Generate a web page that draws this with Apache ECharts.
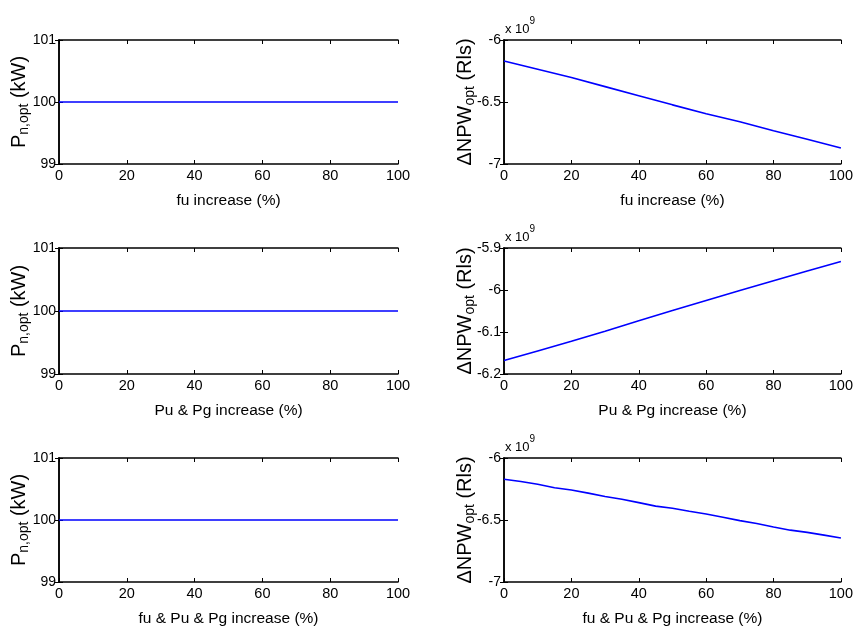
<!DOCTYPE html>
<html><head><meta charset="utf-8">
<script src="https://cdn.jsdelivr.net/npm/echarts@6/dist/echarts.min.js"></script>
<style>html,body{margin:0;padding:0;background:#fff}#c{width:856px;height:634px}</style>
</head><body><div id="c"></div>
<script>
// ---- data ----
const xPct = [0, 10, 20, 30, 40, 50, 60, 70, 80, 90, 100];
const xPctFine = [0, 5, 10, 15, 20, 25, 30, 35, 40, 45, 50, 55, 60, 65, 70, 75, 80, 85, 90, 95, 100];
const pnFu = [100, 100, 100, 100, 100, 100, 100, 100, 100, 100, 100];
const pnPuPg = [100, 100, 100, 100, 100, 100, 100, 100, 100, 100, 100];
const pnAll = [100, 100, 100, 100, 100, 100, 100, 100, 100, 100, 100];
// ΔNPW in units of 1e9 Rls
const npwFu = [-6.169, -6.236, -6.303, -6.376, -6.45, -6.523, -6.595, -6.66, -6.732, -6.80, -6.871];
const npwPuPg = [-6.168, -6.145, -6.122, -6.098, -6.073, -6.049, -6.025, -6.001, -5.978, -5.955, -5.932];
const npwAll = [-6.172, -6.19, -6.212, -6.24, -6.258, -6.283, -6.31, -6.333, -6.36, -6.388, -6.405, -6.43, -6.452, -6.478, -6.505, -6.528, -6.556, -6.582, -6.60, -6.622, -6.645];
const xTitles = ['fu increase (%)', 'Pu & Pg increase (%)', 'fu & Pu & Pg increase (%)'];
const pnTicks = { min: 99, max: 101, interval: 1 };
const npwTicks = [
  { min: -7, max: -6, interval: 0.5 },
  { min: -6.2, max: -5.9, interval: 0.1 },
  { min: -7, max: -6, interval: 0.5 }
];
const xTicks = { min: 0, max: 100, interval: 20 };

// ---- layout ----
const colLeft = [59, 504];
const colWidth = 339;
const rowTop = [40, 248, 458];
const rowHeight = [124, 126, 124];
const yNameGap = [28, 27];

const tickFont = "'Liberation Sans Narrow','Arial Narrow','Liberation Sans',Arial,sans-serif";
const titleFont = "'Liberation Sans',Arial,sans-serif";

const panels = [];
const leftData = [pnFu, pnPuPg, pnAll];
const rightData = [npwFu, npwPuPg, npwAll];
const rightX = [xPct, xPct, xPctFine];
for (let r = 0; r < 3; r++) {
  panels.push({ col: 0, row: r, xs: xPct, ys: leftData[r], y: pnTicks, yName: '{m|P}{s|n,opt}{m| (kW)}', exp: false });
  panels.push({ col: 1, row: r, xs: rightX[r], ys: rightData[r], y: npwTicks[r], yName: '{m|\u0394NPW}{s|opt}{m| (Rls)}', exp: true });
}

const grid = [], xAxis = [], yAxis = [], series = [], graphic = [];
const axLine = { show: true, lineStyle: { color: '#000', width: 1.5 } };
const tick = { show: true, inside: true, length: 4, lineStyle: { color: '#000', width: 1 } };
const nameRich = {
  m: { fontFamily: titleFont, fontSize: 20, color: '#000', lineHeight: 23 },
  s: { fontFamily: titleFont, fontSize: 14, color: '#000', lineHeight: 23, verticalAlign: 'bottom' }
};
panels.forEach((p, i) => {
  grid.push({ left: colLeft[p.col], top: rowTop[p.row], width: colWidth, height: rowHeight[p.row], containLabel: false });
  xAxis.push({
    type: 'value', gridIndex: i, position: 'bottom', min: xTicks.min, max: xTicks.max, interval: xTicks.interval,
    axisLine: axLine, axisTick: tick, splitLine: { show: false },
    axisLabel: { color: '#000', fontFamily: tickFont, fontSize: 14.5, margin: 4 },
    name: xTitles[p.row], nameLocation: 'middle', nameGap: 29, nameMoveOverlap: false,
    nameTextStyle: { fontFamily: tickFont, fontSize: 15.5, color: '#000' }
  });
  xAxis.push({
    type: 'value', gridIndex: i, position: 'top', min: xTicks.min, max: xTicks.max, interval: xTicks.interval,
    axisLine: axLine, axisTick: tick, splitLine: { show: false }, axisLabel: { show: false }
  });
  yAxis.push({
    type: 'value', gridIndex: i, position: 'left', min: p.y.min, max: p.y.max, interval: p.y.interval,
    axisLine: axLine, axisTick: tick, splitLine: { show: false },
    axisLabel: { color: '#000', fontFamily: tickFont, fontSize: 14, margin: 3,
      formatter: v => String(Math.round(v * 10) / 10) },
    name: p.yName, nameLocation: 'middle', nameRotate: 90, nameGap: yNameGap[p.col], nameMoveOverlap: false,
    nameTextStyle: { rich: nameRich }
  });
  yAxis.push({
    type: 'value', gridIndex: i, position: 'right', min: p.y.min, max: p.y.max, interval: p.y.interval,
    axisLine: axLine, axisTick: tick, splitLine: { show: false }, axisLabel: { show: false }
  });
  series.push({
    type: 'line', xAxisIndex: 2 * i, yAxisIndex: 2 * i, showSymbol: false, symbol: 'none',
    data: p.xs.map((x, k) => [x, p.ys[k]]),
    lineStyle: { color: '#0000ff', width: 1.6 }, animation: false
  });
  if (p.exp) {
    graphic.push({
      type: 'text', left: colLeft[p.col] + 1, top: rowTop[p.row] - 24,
      style: { text: '{a|x 10}{b|9}', rich: {
        a: { fontFamily: tickFont, fontSize: 13, color: '#000', lineHeight: 20, verticalAlign: 'bottom' },
        b: { fontFamily: tickFont, fontSize: 10, color: '#000', lineHeight: 20, verticalAlign: 'top' } } }
    });
  }
});

const chart = echarts.init(document.getElementById('c'), null, { renderer: 'canvas' });
chart.setOption({ backgroundColor: '#fff', animation: false, grid, xAxis, yAxis, series, graphic });
</script></body></html>
